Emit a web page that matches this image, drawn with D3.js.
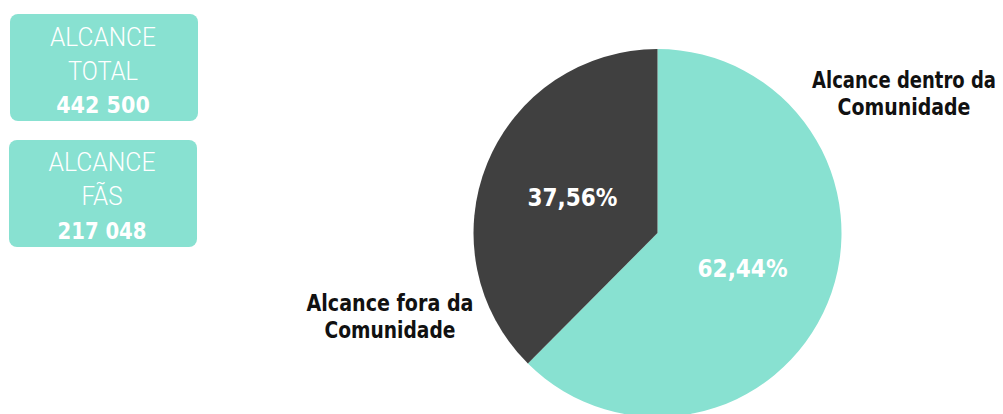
<!DOCTYPE html>
<html>
<head>
<meta charset="utf-8">
<script src="https://cdn.jsdelivr.net/npm/d3@7"></script>
<style>
  html, body { margin: 0; padding: 0; background: #ffffff; }
  svg { display: block; }
</style>
</head>
<body>
<svg id="chart" width="1003" height="414"></svg>
<script>
// Reach split between community and outside
const categories = [
  ["Alcance dentro da", "Comunidade"],
  ["Alcance fora da", "Comunidade"]
];
const shares = [62.44, 37.56];
const sliceColors = ["#88e1d1", "#404040"];

// Summary boxes
const summaryTitles = [["ALCANCE", "TOTAL"], ["ALCANCE", "FÃS"]];
const summaryValues = [442500, 217048];

const locale = d3.formatLocale({ decimal: ",", thousands: " ", grouping: [3], currency: ["", ""] });
const fmtInt = locale.format(",d");
const fmtPct = v => locale.format(".2f")(v) + "%";

const svg = d3.select("#chart");
const TEAL = "#88e1d1";
const BOLD = "'DejaVu Sans Condensed', 'DejaVu Sans', sans-serif";
const LIGHT = "Roboto, 'Open Sans', sans-serif";

// Draws centred text narrowed horizontally to a given width (condensed look)
function fitText(parent, x, y, str, width, font, weight, size, fill) {
  const t = parent.append("text")
    .attr("text-anchor", "middle")
    .attr("font-family", font).attr("font-weight", weight)
    .attr("font-size", size).attr("fill", fill)
    .text(str);
  const natural = t.node().getComputedTextLength() || width;
  const sx = Math.min(1, width / natural);
  t.attr("transform", `translate(${x},${y}) scale(${sx},1)`);
  return t;
}

// ---- summary boxes ----
const boxes = [
  { x: 10, y: 14, w: 188, h: 107, lines: [46, 80], value: 113, widths: [106, 70], vw: 98 },
  { x: 9, y: 140, w: 188, h: 107, lines: [171, 205], value: 239, widths: [107, 41], vw: 89 }
];
boxes.forEach((b, i) => {
  const g = svg.append("g");
  g.append("rect")
    .attr("x", b.x).attr("y", b.y).attr("width", b.w).attr("height", b.h)
    .attr("rx", 8).attr("ry", 8).attr("fill", TEAL);
  const cx = b.x + b.w / 2 - 1;
  summaryTitles[i].forEach((t, j) => {
    fitText(g, cx, b.lines[j], t, b.widths[j], LIGHT, 300, 26, "#ffffff");
  });
  fitText(g, cx, b.value, fmtInt(summaryValues[i]), b.vw, BOLD, "bold", 23, "#ffffff");
});

// ---- pie ----
const cx = 657.5, cy = 233, radius = 184;
const pie = d3.pie().sort(null).value(d => d)(shares);
const arc = d3.arc().innerRadius(0).outerRadius(radius);
const labelArc = d3.arc().innerRadius(92).outerRadius(92);

const pg = svg.append("g").attr("transform", `translate(${cx},${cy})`);
pg.selectAll("path.slice")
  .data(pie)
  .join("path")
  .attr("class", "slice")
  .attr("d", arc)
  .attr("fill", (d, i) => sliceColors[i]);

pie.forEach(d => {
  const [lx, ly] = labelArc.centroid(d);
  fitText(pg, lx, ly + 8.5, fmtPct(d.data), 94, BOLD, "bold", 24, "#ffffff");
});

// ---- category labels ----
const catPos = [
  { x: 904, y: 88, widths: [184, 133] },
  { x: 390, y: 311, widths: [167, 131] }
];
categories.forEach((lines, i) => {
  const p = catPos[i];
  lines.forEach((t, j) => {
    fitText(svg, p.x, p.y + j * 27, t, p.widths[j], BOLD, "bold", 23, "#111111");
  });
});
</script>
</body>
</html>
